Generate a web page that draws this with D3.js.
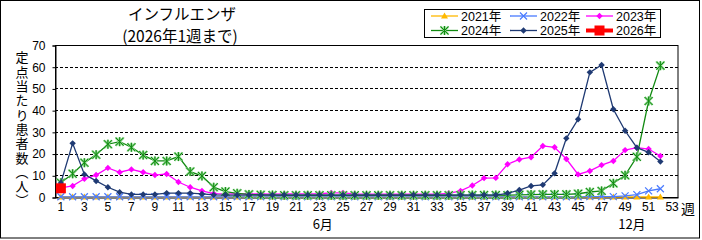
<!DOCTYPE html>
<html><head><meta charset="utf-8">
<script src="https://cdn.jsdelivr.net/npm/d3@7"></script>
<style>
html,body{margin:0;padding:0;background:#fff;}
svg{display:block;font-family:"Noto Sans CJK JP","Liberation Sans",sans-serif;}
</style></head>
<body>
<svg id="chart" width="702" height="240"></svg>
<script>
// ---- data ----
const weeks = [1,2,3,4,5,6,7,8,9,10,11,12,13,14,15,16,17,18,19,20,21,22,23,24,25,26,27,28,29,30,31,32,33,34,35,36,37,38,39,40,41,42,43,44,45,46,47,48,49,50,51,52,53];
const weekTickLabels = [1,3,5,7,9,11,13,15,17,19,21,23,25,27,29,31,33,35,37,39,41,43,45,47,49,51,53];
const yTicks = [0,10,20,30,40,50,60,70];
const monthLabels = ["6月","12月"];
const monthWeeks = [23.78,50.08];

const v2021 = [0,0,0,0,0,0,0,0,0,0,0,0,0,0,0,0,0,0,0,0,0,0,0,0,0,0,0,0,0,0,0,0,0,0,0,0,0,0,0,0,0,0,0,0,0,0,0,0,0,0,0,0];
const v2022 = [0.1,0.1,0.1,0.1,0.1,0.1,0.1,0.1,0.1,0.1,0.1,0.1,0.1,0.1,0.1,0.1,0.1,0.1,0.1,0.1,0.1,0.1,0.1,0.1,0.1,0.1,0.1,0.1,0.1,0.1,0.1,0.1,0.1,0.1,0.1,0.1,0.1,0.1,0.1,0.1,0.1,0.1,0.1,0.1,0.1,0.2,0.2,0.2,0.5,1.1,2.8,3.8];
const v2023 = [4.2,5.1,8.4,10.1,13.4,11.4,12.7,11.4,10.1,10.6,6.9,4.5,2.8,1.6,1.4,1.4,1.4,1.4,1.3,1.4,1.4,1.4,1.5,1.9,1.9,1.4,1.3,1.3,1.3,1.3,1.3,1.3,1.3,1.7,2.8,5.3,8.7,8.8,15.1,17.3,18.3,23.5,22.9,17.5,10.4,12.0,14.7,16.6,21.6,22.7,22.1,18.9];
const v2024 = [6.6,10.7,15.8,19.5,24.3,25.5,22.9,19.3,16.6,16.6,18.6,11.7,9.7,4.5,2.5,1.7,1.2,1.0,0.9,0.8,0.8,0.8,0.8,0.8,0.8,0.8,0.8,0.8,0.8,0.8,0.8,0.8,0.8,0.8,0.9,0.9,0.9,0.9,0.8,1.0,1.1,1.2,1.2,1.2,1.5,2.3,2.8,6.3,10.0,18.5,44.2,60.5];
const v2025 = [6.5,24.7,10.4,7.4,4.5,2.2,1.2,1.2,1.2,1.8,1.8,1.8,1.4,1.0,0.9,0.9,0.9,0.9,0.9,0.9,0.9,0.9,0.9,0.9,0.9,0.9,0.9,0.9,0.9,0.9,0.9,0.9,0.9,0.9,0.9,0.9,0.9,0.9,1.7,3.2,5.1,5.6,10.9,27.0,35.8,57.4,60.8,40.4,30.5,22.7,20.6,16.3];
const v2026 = [4.0];

const seriesNames = ["2021年","2022年","2023年","2024年","2025年","2026年"];
const seriesValues = [v2021,v2022,v2023,v2024,v2025,v2026];
const seriesColors = ["#FFB900","#4A7BFF","#FF00FF","#118A11","#1F3A73","#FF0000"];
const seriesMarkers = ["triangle","x","diamond","asterisk","diamond","square"];

// ---- layout ----
const svg = d3.select("#chart");
const pL = 55, pR = 678, pT = 45, pB = 197;

const x = d3.scaleBand().domain(weeks).range([pL,pR]).padding(0);
const xc = w => x(w) + x.bandwidth()/2;
const y = d3.scaleLinear().domain([0,70]).range([pB,pT]);

// outer frame
svg.append("rect").attr("x",0.5).attr("y",0.5).attr("width",699).attr("height",237.5)
  .attr("fill","none").attr("stroke","#000").attr("stroke-width",1);

// titles
svg.append("text").attr("x",182).attr("y",20).attr("text-anchor","middle")
  .attr("font-size",15.5).attr("fill","#000").text("インフルエンザ");
svg.append("text").attr("x",180).attr("y",42).attr("text-anchor","middle")
  .attr("font-size",15.5).attr("fill","#000").text("(2026年1週まで)");

// y axis title (vertical)
svg.append("text").attr("x",22).attr("y",51)
  .style("writing-mode","vertical-rl").style("text-orientation","upright")
  .attr("font-size",13).attr("letter-spacing",1.3).attr("fill","#000")
  .text("定点当たり患者数（人）");

// grid lines
const g = svg.append("g");
g.selectAll("line.grid").data(yTicks.filter(t=>t>0 && t<70)).enter().append("line")
  .attr("x1",pL).attr("x2",pR).attr("y1",d=>Math.round(y(d))+0.5).attr("y2",d=>Math.round(y(d))+0.5)
  .attr("stroke","#000").attr("stroke-width",1).attr("stroke-dasharray","3,2");

// plot border
svg.append("rect").attr("x",pL+0.5).attr("y",pT+0.5).attr("width",pR-pL-0.5).attr("height",pB-pT)
  .attr("fill","none").attr("stroke","#000").attr("stroke-width",1);

// y axis
const yAxis = d3.axisLeft(y).tickValues(yTicks).tickSize(3).tickPadding(7);
const ya = svg.append("g").attr("transform",`translate(${pL+0.5},0.5)`).call(yAxis);
ya.select(".domain").attr("stroke","#000");
ya.selectAll("text").attr("font-family","Liberation Sans, sans-serif").attr("font-size",12).attr("fill","#000");

// x axis
const xAxis = d3.axisBottom(x).tickValues(weekTickLabels).tickSize(0).tickPadding(5);
const xa = svg.append("g").attr("transform",`translate(0,${pB+0.5})`).call(xAxis);
xa.select(".domain").attr("stroke","#000");
xa.selectAll("text").attr("font-family","Liberation Sans, sans-serif").attr("font-size",12).attr("fill","#000");

svg.append("text").attr("x",688).attr("y",214).attr("text-anchor","middle").attr("font-size",14).text("週");

// month labels
monthLabels.forEach((m,i)=>{
  const wx = x(Math.floor(monthWeeks[i])) + x.bandwidth()*(monthWeeks[i]-Math.floor(monthWeeks[i])) ;
  svg.append("text").attr("x",wx).attr("y",229).attr("text-anchor","middle").attr("font-size",13).text(m);
});

// marker drawing
function drawMarker(sel, type, color, cx, cy){
  if(type==="triangle"){
    sel.append("path").attr("d",`M${cx},${cy-3.5}L${cx+3.5},${cy+2.5}L${cx-3.5},${cy+2.5}Z`).attr("fill",color);
  } else if(type==="x"){
    sel.append("path").attr("d",`M${cx-3.5},${cy-3.5}L${cx+3.5},${cy+3.5}M${cx-3.5},${cy+3.5}L${cx+3.5},${cy-3.5}`)
      .attr("stroke",color).attr("stroke-width",1.2).attr("fill","none");
  } else if(type==="diamond"){
    sel.append("path").attr("d",`M${cx},${cy-3.2}L${cx+3.2},${cy}L${cx},${cy+3.2}L${cx-3.2},${cy}Z`).attr("fill",color);
  } else if(type==="asterisk"){
    const d = `M${cx-4},${cy-4}L${cx+4},${cy+4}M${cx-4},${cy+4}L${cx+4},${cy-4}M${cx},${cy-4.5}L${cx},${cy+4.5}`;
    sel.append("path").attr("d",d).attr("stroke","#7fd07f").attr("stroke-width",2.2).attr("fill","none");
    sel.append("path").attr("d",d).attr("stroke",color).attr("stroke-width",1).attr("fill","none");
  } else if(type==="square"){
    const s = 10;
    sel.append("rect").attr("x",cx-s/2).attr("y",cy-s/2).attr("width",s).attr("height",s).attr("fill",color);
  }
}

// series
const line = d3.line().x((d,i)=>xc(weeks[i])).y(d=>y(d));
seriesValues.forEach((vals,si)=>{
  const sg = svg.append("g");
  sg.append("path").datum(vals).attr("d",line).attr("fill","none")
    .attr("stroke",seriesColors[si]).attr("stroke-width",si===5?3:1.3);
  vals.forEach((v,i)=>drawMarker(sg, seriesMarkers[si], seriesColors[si], xc(weeks[i]), y(v)));
});

// legend
svg.append("rect").attr("x",424.5).attr("y",9.5).attr("width",236).attr("height",28)
  .attr("fill","#fff").attr("stroke","#000").attr("stroke-width",1);
const legCols = [431,510,586];
const legRows = [16,30.5];
seriesNames.forEach((n,i)=>{
  const cx0 = legCols[i%3], cy0 = legRows[Math.floor(i/3)];
  const lg = svg.append("g");
  lg.append("line").attr("x1",cx0).attr("x2",cx0+27).attr("y1",cy0).attr("y2",cy0)
    .attr("stroke",seriesColors[i]).attr("stroke-width",i===5?4:1.3);
  drawMarker(lg, seriesMarkers[i], seriesColors[i], cx0+13.5, cy0);
  lg.append("text").attr("x",cx0+30).attr("y",cy0+4.5)
    .attr("font-family","Liberation Sans, Noto Sans CJK JP, sans-serif")
    .attr("font-size",12.5).attr("fill","#000").text(n);
});
</script>
</body></html>
